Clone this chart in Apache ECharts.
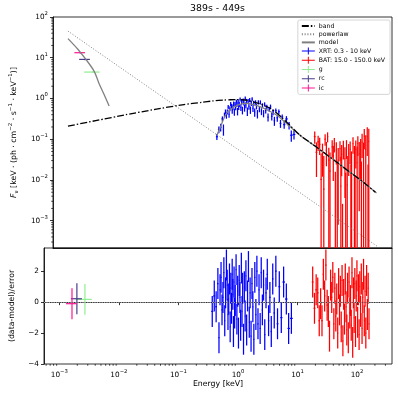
<!DOCTYPE html>
<html>
<head>
<meta charset="utf-8">
<script src="https://cdn.jsdelivr.net/npm/echarts@6/dist/echarts.min.js"></script>
<style>
html,body{margin:0;padding:0;background:#fff;}
#chart{width:398px;height:395px;}
</style>
</head>
<body>
<div id="chart"></div>
<script>
// ---------------- data ----------------
const titleText = '389s - 449s';
const xTickExponents = [-3, -2, -1, 0, 1, 2];
const yTickExponents = [-3, -2, -1, 0, 1, 2];
const residualTicks = [-4, -2, 0, 2];

// band model (keV, flux)
const bandE = [0.001, 0.00316, 0.01, 0.0316, 0.1, 0.2, 0.316, 0.5, 0.63, 0.8, 1.0, 1.26, 1.58, 2.0, 2.51, 3.16, 3.98, 5.0, 6.31, 10, 20, 40, 80, 126, 200];
const bandF = [0.21, 0.29, 0.40, 0.54, 0.71, 0.80, 0.87, 0.915, 0.93, 0.94, 0.93, 0.895, 0.83, 0.75, 0.66, 0.56, 0.44, 0.33, 0.24, 0.126, 0.062, 0.0295, 0.0141, 0.0087, 0.0050];
// powerlaw component
const plE = [0.001, 0.01, 0.1, 1, 10, 100, 220];
const plF = [45, 4.6, 0.47, 0.048, 0.0049, 0.0005, 0.00023];
// total model, optical part
const modelOptE = [0.001, 0.00148, 0.00204, 0.00282, 0.00339, 0.00407, 0.00513];
const modelOptF = [29.5, 16.2, 9.1, 4.7, 2.45, 1.38, 0.65];
// total model, X-ray / gamma part
const modelXE = [0.37, 0.42, 0.5, 0.575, 0.71, 0.89, 1.19, 1.58, 2.24, 3.09, 4.17, 5.75, 7.94, 11.2, 20, 40, 80, 126, 209];
const modelXF = [0.126, 0.19, 0.35, 0.48, 0.60, 0.71, 0.76, 0.71, 0.60, 0.48, 0.37, 0.25, 0.166, 0.11, 0.062, 0.0295, 0.0141, 0.0087, 0.0048];

// XRT data
const xrtName = 'XRT: 0.3 - 10 keV';
const xrtE = [0.37,0.40,0.43,0.46,0.48,0.50,0.52,0.54,0.56,0.58,0.60,0.62,0.64,0.66,0.68,0.70,0.72,0.74,0.76,0.78,0.80,0.82,0.84,0.86,0.88,0.90,0.93,0.96,0.99,1.02,1.05,1.08,1.11,1.14,1.17,1.20,1.24,1.28,1.32,1.36,1.40,1.45,1.50,1.55,1.60,1.66,1.72,1.78,1.85,1.92,2.00,2.08,2.17,2.26,2.36,2.46,2.57,2.69,2.82,2.96,3.11,3.27,3.44,3.63,3.84,4.07,4.33,4.62,4.95,5.35,5.85,6.5,7.1,7.9];
const xrtF = [.115,.173,.197,.316,.176,.395,.477,.386,.470,.617,.41,.567,.734,.652,.510,.618,.747,.471,.726,.611,.838,.720,.486,.825,.627,.721,.947,.601,.807,.518,.895,.784,.589,1.011,.692,.863,.486,.863,.640,.916,.526,.763,.968,.572,.774,.462,.802,.640,.422,.806,.554,.806,.482,.672,.432,.720,.509,.617,.349,.545,.627,.366,.462,.284,.502,.335,.476,.244,.351,.228,.315,.219,.125,.131];
const xrtErr = [.019,.032,.042,.047,.054,.056,.061,.067,.068,.072,.075,.078,.081,.084,.087,.09,.092,.093,.096,.098,.099,.10,.102,.104,.105,.107,.108,.108,.11,.111,.111,.113,.114,.114,.114,.114,.114,.113,.111,.11,.108,.108,.108,.107,.107,.104,.102,.10,.099,.098,.095,.093,.092,.09,.087,.084,.083,.08,.077,.075,.082,.078,.075,.071,.068,.065,.06,.054,.051,.047,.054,.046,.038,.033];
const xrtRes = [-0.6,0.4,-0.3,1.2,-2.3,0.8,1.6,-0.5,0.3,1.9,-1.2,0.6,2.4,1.1,-0.8,0.2,1.5,-1.6,0.9,-0.4,1.8,0.5,-1.9,1.3,-0.7,0.1,2.1,-1.1,0.7,-2.0,1.4,0.3,-1.5,2.2,-0.6,0.9,-2.4,1.0,-0.9,1.7,-1.8,0.4,2.3,-1.3,0.6,-2.2,1.2,-0.3,-2.4,1.6,-0.8,2.0,-1.4,0.8,-1.7,1.9,-0.5,1.1,-2.1,0.6,1.8,-1.2,0.3,-1.9,1.5,-0.7,2.0,-1.4,1.0,-1.0,1.3,0.2,-1.7,-1.05];

// BAT data
const batName = 'BAT: 15.0 - 150.0 keV';
const batE = [18.0,19.3,20.6,21.9,23.2,24.5,25.8,27.2,28.6,30.0,31.5,33.0,34.5,36.0,37.6,39.2,40.8,42.4,44.0,45.7,47.4,49.1,50.8,52.5,54.3,56.1,57.9,59.7,61.6,63.5,65.4,67.4,69.4,71.4,73.5,75.6,77.8,80.0,82.3,84.6,87.0,89.4,91.9,94.4,97.0,99.7,102.5,105.4,108.4,111.5,114.7,118.0,121.5,125.0,128.7,132.5,136.5,140.6,144.9,149.3,154,159];
const batF = [.116,.0478,.0861,.0749,.0104,.0450,.0060,.1007,.0537,.1157,.0307,.0165,-.0348,.0650,.0395,.0772,-.0140,.0539,-.0012,.0308,-.0362,.0590,.0071,.0424,-.0274,.0619,-.0558,.0336,-.0150,.0639,.0076,-.0395,.0446,-.0582,.0565,-.0086,.0173,-.0374,.0778,-.0782,.0334,-.0239,.0561,-.0608,.0267,.0787,-.0429,.0437,-.0826,.0556,-.0196,.0855,-.0831,.0255,.118,-.0701,.0560,-.1406,.1178,-.0610,.0887,-.1307];
const batErr = [.038,.036,.035,.034,.034,.033,.033,.032,.032,.032,.031,.031,.031,.030,.030,.030,.030,.030,.030,.030,.030,.030,.030,.030,.030,.030,.030,.030,.030,.031,.031,.031,.032,.032,.032,.033,.033,.034,.034,.035,.035,.036,.037,.038,.039,.040,.041,.042,.044,.046,.048,.051,.054,.057,.061,.065,.069,.074,.079,.085,.091,.098];
const batRes = [1.3,-0.4,0.8,0.6,-1.2,-0.1,-1.2,1.8,0.4,2.4,-0.2,-0.6,-2.2,1.1,0.3,1.6,-1.4,0.9,-0.9,0.2,-2.0,1.2,-0.5,0.7,-1.6,1.4,-2.5,0.5,-1.1,1.5,-0.3,-1.8,0.9,-2.3,1.3,-0.7,0.1,-1.5,1.9,-2.6,0.6,-1.0,1.2,-1.9,0.4,1.7,-1.3,0.8,-2.1,1.0,-0.6,1.5,-1.7,0.3,1.8,-1.2,0.7,-2.0,1.4,-0.8,0.9,-1.4];

// optical filters
const optNames = ['g', 'rc', 'ic'];
const optE   = [2.69e-3, 1.97e-3, 1.63e-3];
const optElo = [1.90e-3, 1.56e-3, 1.29e-3];
const optEhi = [3.50e-3, 2.39e-3, 1.97e-3];
const optF   = [4.45, 9.1, 13.3];
const optErr = [0.25, 0.4, 0.5];
const optRes = [0.18, 0.22, -0.1];
const optResErr = [1.0, 1.0, 1.0];

// ---------------- layout / style ----------------
const FONT = 'DejaVu Sans';
const XMIN = 5.52e-4, XMAX = 387;
const YMIN = 2.14e-4, YMAX = 100;
const RMIN = -4, RMAX = 3.5;
const colors = { xrt: '#0000ff', bat: '#ff0000', g: '#90ee90', rc: '#483d8b', ic: '#ff1493', model: '#808080', band: '#000000', pl: '#808080' };
const optColors = [colors.g, colors.rc, colors.ic];

function zip(a, b) { return a.map((v, i) => [v, b[i]]); }
function binEdges(E) {
  return E.map((e, i) => {
    const lo = i > 0 ? Math.sqrt(E[i - 1] * e) : e * e / Math.sqrt(e * E[i + 1]);
    const hi = i < E.length - 1 ? Math.sqrt(e * E[i + 1]) : e * e / Math.sqrt(E[i - 1] * e);
    return [lo, hi];
  });
}
function errRows(E, edges, V, err) {
  return E.map((e, i) => [e, V[i], edges[i][0], edges[i][1], V[i] - err[i], V[i] + err[i]]);
}
const xrtEdges = binEdges(xrtE), batEdges = binEdges(batE);
const ones = n => new Array(n).fill(1);

function makeRender(color, lw, logFloor) {
  return function (params, api) {
    const x = api.value(0), y = api.value(1), xl = api.value(2), xh = api.value(3);
    let yl = api.value(4), yh = api.value(5);
    const ch = [];
    if (logFloor !== null) {
      if (!(yh > logFloor)) return { type: 'group', children: [] };
      if (!(yl > logFloor)) yl = logFloor;
    }
    const a = api.coord([x, yl]), b = api.coord([x, yh]);
    ch.push({ type: 'line', shape: { x1: a[0], y1: a[1], x2: b[0], y2: b[1] }, style: { stroke: color, lineWidth: lw } });
    if (logFloor === null || y > logFloor) {
      const c = api.coord([xl, y]), d = api.coord([xh, y]);
      ch.push({ type: 'line', shape: { x1: c[0], y1: c[1], x2: d[0], y2: d[1] }, style: { stroke: color, lineWidth: lw } });
    }
    return { type: 'group', children: ch };
  };
}
function errSeries(name, color, data, top, lw) {
  return {
    type: 'custom', name: name, xAxisIndex: top ? 0 : 1, yAxisIndex: top ? 0 : 1,
    itemStyle: { color: color }, clip: true, z: 3, silent: true,
    encode: { x: 0, y: 1 }, data: data,
    renderItem: makeRender(color, lw, top ? YMIN : null)
  };
}

// minor tick values on log axes
function minorValues(lo, hi) {
  const out = [];
  for (let k = -5; k <= 3; k++) for (let m = 2; m <= 9; m++) {
    const v = m * Math.pow(10, k);
    if (v > lo && v < hi) out.push([v]);
  }
  return out;
}

function powLabel(v) {
  const e = Math.log10(v), r = Math.round(e);
  if (Math.abs(e - r) > 1e-6) return '';
  return '10{sup|' + (r < 0 ? '\u2212' + (-r) : '' + r) + '}';
}
const tickRich = { sup: { fontSize: 5.3, fontFamily: FONT, color: '#000', verticalAlign: 'top', lineHeight: 12 } };

const plusIcon = 'path://M0,3 L13,3 L13,4 L0,4 Z M6,0 L7,0 L7,7 L6,7 Z';
const hiddenSymbol = { opacity: 0, color: 'rgba(0,0,0,0)', borderWidth: 0 };

const series = [];
series.push({ type: 'line', name: 'band', xAxisIndex: 0, yAxisIndex: 0, data: zip(bandE, bandF), showSymbol: false, symbol: 'none', smooth: 0.2, z: 6,
  lineStyle: { color: colors.band, width: 1.3, type: [7, 2, 1.5, 2] }, itemStyle: { color: colors.band }, silent: true });
series.push({ type: 'line', name: 'powerlaw', xAxisIndex: 0, yAxisIndex: 0, data: zip(plE, plF), showSymbol: false, symbol: 'none', z: 5,
  lineStyle: { color: colors.pl, width: 1, type: [1, 1.8] }, itemStyle: { color: colors.pl }, silent: true });
series.push({ type: 'line', name: 'model', xAxisIndex: 0, yAxisIndex: 0, data: zip(modelOptE, modelOptF), showSymbol: false, symbol: 'none', smooth: 0.3, z: 5,
  lineStyle: { color: colors.model, width: 1.3 }, itemStyle: { color: colors.model }, silent: true });
series.push({ type: 'line', name: 'model', xAxisIndex: 0, yAxisIndex: 0, data: zip(modelXE, modelXF), showSymbol: false, symbol: 'none', smooth: 0.3, z: 5,
  lineStyle: { color: colors.model, width: 1.3 }, itemStyle: { color: colors.model }, silent: true });

series.push(errSeries(xrtName, colors.xrt, errRows(xrtE, xrtEdges, xrtF, xrtErr), true, 1.25));
series.push(errSeries(batName, colors.bat, errRows(batE, batEdges, batF, batErr), true, 1.25));
optNames.forEach((n, i) => {
  series.push(errSeries(n, optColors[i], [[optE[i], optF[i], optElo[i], optEhi[i], optF[i] - optErr[i], optF[i] + optErr[i]]], true, 1.2));
});
const resX = errSeries(xrtName, colors.xrt, errRows(xrtE, xrtEdges, xrtRes, ones(xrtE.length)), false, 1.25);
resX.markLine = { silent: true, symbol: 'none', label: { show: false }, animation: false,
  lineStyle: { color: '#a0a0a0', type: [1.2, 1.2], width: 1.2 }, data: [{ yAxis: 0 }] };
series.push(resX);
series.push(errSeries(batName, colors.bat, errRows(batE, batEdges, batRes, ones(batE.length)), false, 1.25));
optNames.forEach((n, i) => {
  series.push(errSeries(n, optColors[i], [[optE[i], optRes[i], optElo[i], optEhi[i], optRes[i] - optResErr[i], optRes[i] + optResErr[i]]], false, 1.2));
});
// minor ticks (decoration drawn through the axes' scales)
series.push({ type: 'custom', name: '_xminor', xAxisIndex: 1, yAxisIndex: 1, silent: true, clip: false, data: minorValues(XMIN, XMAX),
  encode: { x: 0 },
  renderItem: (p, api) => { const c = api.coord([api.value(0), RMIN]);
    return { type: 'line', shape: { x1: c[0], y1: c[1], x2: c[0], y2: c[1] + 1.8 }, style: { stroke: '#000', lineWidth: 0.7 } }; } });
series.push({ type: 'custom', name: '_yminor', xAxisIndex: 0, yAxisIndex: 0, silent: true, clip: false, data: minorValues(YMIN, YMAX).map(r => [XMIN, r[0]]),
  encode: { x: 0, y: 1 },
  renderItem: (p, api) => { const c = api.coord([XMIN, api.value(1)]);
    return { type: 'line', shape: { x1: c[0] - 1.8, y1: c[1], x2: c[0], y2: c[1] }, style: { stroke: '#000', lineWidth: 0.7 } }; } });

const axisLineStyle = { show: true, lineStyle: { color: '#000', width: 0.8 } };
const option = {
  animation: false,
  backgroundColor: '#fff',
  graphic: [{ type: 'text', x: 217.5, y: 9, style: { text: titleText, textAlign: 'center', textVerticalAlign: 'middle', font: '9.4px "DejaVu Sans"', fill: '#000' } }],
  grid: [
    { left: 43, top: 17, width: 349, height: 231, show: true, borderColor: '#000', borderWidth: 0.8, backgroundColor: 'transparent' },
    { left: 43, top: 248, width: 349, height: 116, show: true, borderColor: '#000', borderWidth: 0.8, backgroundColor: 'transparent' }
  ],
  xAxis: [
    { type: 'log', logBase: 10, gridIndex: 0, min: XMIN, max: XMAX, axisLine: axisLineStyle, axisTick: { show: false }, axisLabel: { show: false }, splitLine: { show: false } },
    { type: 'log', logBase: 10, gridIndex: 1, min: XMIN, max: XMAX, axisLine: axisLineStyle,
      axisTick: { show: true, length: 3, lineStyle: { color: '#000', width: 0.8 } },
      axisLabel: { formatter: powLabel, rich: tickRich, fontSize: 7.3, fontFamily: FONT, color: '#000', margin: 5, showMinLabel: false, showMaxLabel: false },
      splitLine: { show: false },
      name: 'Energy [keV]', nameLocation: 'middle', nameGap: 16, nameTextStyle: { fontSize: 7.8, fontFamily: FONT, color: '#000' } }
  ],
  yAxis: [
    { type: 'log', logBase: 10, gridIndex: 0, min: YMIN, max: YMAX, axisLine: axisLineStyle,
      axisTick: { show: true, length: 3, lineStyle: { color: '#000', width: 0.8 } },
      axisLabel: { formatter: powLabel, rich: tickRich, fontSize: 7.3, fontFamily: FONT, color: '#000', margin: 5, showMinLabel: false },
      splitLine: { show: false },
      name: '{it|F}{sub|\u03bd} [keV \u00b7 (ph \u00b7 cm{sup|\u22122} \u00b7 s{sup|\u22121} \u00b7 keV{sup|\u22121})]',
      nameLocation: 'middle', nameGap: 30, nameRotate: 90,
      nameTextStyle: { fontSize: 7.8, fontFamily: FONT, color: '#000', lineHeight: 12,
        rich: { it: { fontStyle: 'italic', fontSize: 7.8, fontFamily: FONT }, sub: { fontSize: 5.5, verticalAlign: 'bottom', fontFamily: FONT, lineHeight: 12 }, sup: { fontSize: 5.5, verticalAlign: 'top', fontFamily: FONT, lineHeight: 12 } } } },
    { type: 'value', gridIndex: 1, min: RMIN, max: RMAX, interval: 2, axisLine: axisLineStyle,
      axisTick: { show: true, length: 3, lineStyle: { color: '#000', width: 0.8 } },
      axisLabel: { formatter: v => (residualTicks.indexOf(v) < 0 ? '' : (v < 0 ? '\u2212' + (-v) : '' + v)), fontSize: 7.3, fontFamily: FONT, color: '#000', margin: 5, showMaxLabel: false },
      splitLine: { show: false },
      name: '(data-model)/error', nameLocation: 'middle', nameGap: 28, nameRotate: 90,
      nameTextStyle: { fontSize: 7.8, fontFamily: FONT, color: '#000' } }
  ],
  legend: {
    orient: 'vertical', right: 8, top: 20, itemWidth: 13, itemHeight: 7, itemGap: 2.2,
    padding: [3, 5, 3, 3], backgroundColor: 'rgba(255,255,255,0.8)', borderColor: '#cccccc', borderWidth: 0.8, borderRadius: 2,
    textStyle: { fontSize: 6.2, fontFamily: FONT, color: '#000', padding: [0, 0, 0, -1] },
    selectedMode: false,
    data: [
      { name: 'band', itemStyle: hiddenSymbol }, { name: 'powerlaw', itemStyle: hiddenSymbol }, { name: 'model', itemStyle: hiddenSymbol },
      { name: xrtName, icon: plusIcon }, { name: batName, icon: plusIcon },
      { name: 'g', icon: plusIcon }, { name: 'rc', icon: plusIcon }, { name: 'ic', icon: plusIcon }
    ]
  },
  series: series
};
const chart = echarts.init(document.getElementById('chart'), null, { renderer: 'canvas' });
chart.setOption(option);
</script>
</body>
</html>
